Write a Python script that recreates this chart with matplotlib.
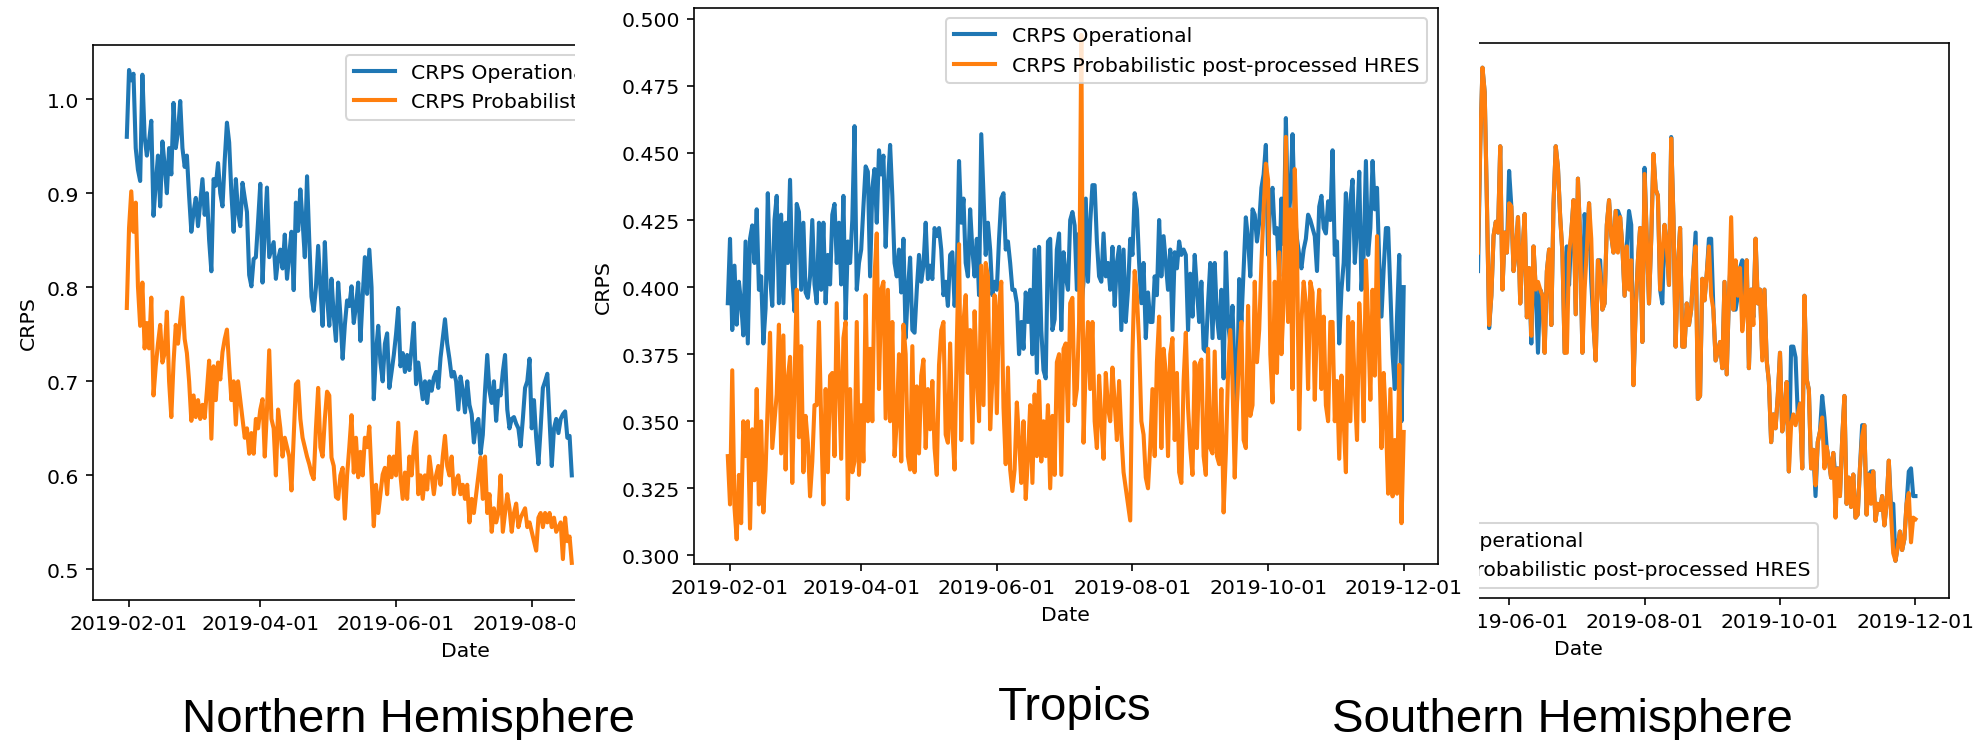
import pandas as pd
import matplotlib
matplotlib.use('Agg')
import matplotlib.pyplot as plt
import matplotlib.dates as mdates
from matplotlib.patches import Rectangle

DPI = 147
W, H = 1978, 741

plt.rcParams['lines.linewidth'] = 2.0

op_label = 'CRPS Operational'
pp_label = 'CRPS Probabilistic post-processed HRES'

# daily CRPS over the tropics, 2019-01-31 .. 2019-12-01
tropics_start = '2019-01-31'
tropics_op = [
    0.394, 0.418, 0.384, 0.408, 0.386, 0.402, 0.394, 0.382, 0.417, 0.379,
    0.418, 0.423, 0.409, 0.429, 0.399, 0.404, 0.379, 0.392, 0.435, 0.404,
    0.393, 0.425, 0.434, 0.394, 0.427, 0.394, 0.424, 0.409, 0.440, 0.404,
    0.391, 0.431, 0.428, 0.399, 0.424, 0.398, 0.396, 0.404, 0.425, 0.401,
    0.394, 0.424, 0.399, 0.424, 0.394, 0.412, 0.401, 0.427, 0.431, 0.409,
    0.424, 0.401, 0.434, 0.388, 0.417, 0.409, 0.425, 0.460, 0.399, 0.409,
    0.414, 0.430, 0.445, 0.443, 0.404, 0.437, 0.444, 0.424, 0.451, 0.442,
    0.449, 0.415, 0.438, 0.453, 0.434, 0.409, 0.404, 0.414, 0.398, 0.418,
    0.381, 0.399, 0.411, 0.384, 0.383, 0.399, 0.412, 0.402, 0.408, 0.424,
    0.403, 0.408, 0.403, 0.422, 0.419, 0.422, 0.414, 0.397, 0.402, 0.393,
    0.412, 0.413, 0.393, 0.404, 0.447, 0.424, 0.433, 0.409, 0.404, 0.429,
    0.414, 0.404, 0.418, 0.397, 0.457, 0.434, 0.412, 0.424, 0.414, 0.397,
    0.402, 0.399, 0.418, 0.433, 0.435, 0.414, 0.417, 0.409, 0.399, 0.399,
    0.394, 0.375, 0.387, 0.377, 0.398, 0.387, 0.399, 0.375, 0.414, 0.368,
    0.415, 0.384, 0.369, 0.366, 0.417, 0.418, 0.384, 0.388, 0.414, 0.420,
    0.384, 0.413, 0.404, 0.399, 0.425, 0.428, 0.423, 0.399, 0.420, 0.392,
    0.402, 0.433, 0.402, 0.424, 0.438, 0.438, 0.417, 0.404, 0.402, 0.420,
    0.404, 0.409, 0.399, 0.415, 0.393, 0.409, 0.415, 0.384, 0.414, 0.387,
    0.399, 0.418, 0.412, 0.435, 0.429, 0.409, 0.394, 0.409, 0.381, 0.398,
    0.387, 0.387, 0.404, 0.397, 0.425, 0.404, 0.419, 0.409, 0.399, 0.414,
    0.384, 0.413, 0.407, 0.417, 0.412, 0.414, 0.412, 0.384, 0.405, 0.389,
    0.412, 0.399, 0.387, 0.402, 0.377, 0.376, 0.394, 0.409, 0.381, 0.409,
    0.389, 0.381, 0.399, 0.366, 0.413, 0.387, 0.379, 0.393, 0.366, 0.357,
    0.403, 0.387, 0.407, 0.426, 0.418, 0.404, 0.429, 0.427, 0.417, 0.424,
    0.437, 0.442, 0.453, 0.412, 0.433, 0.437, 0.420, 0.422, 0.404, 0.433,
    0.416, 0.463, 0.424, 0.433, 0.457, 0.427, 0.418, 0.412, 0.407, 0.414,
    0.418, 0.427, 0.425, 0.422, 0.419, 0.406, 0.430, 0.434, 0.422, 0.420,
    0.432, 0.425, 0.451, 0.412, 0.417, 0.379, 0.399, 0.409, 0.435, 0.399,
    0.432, 0.440, 0.409, 0.422, 0.443, 0.399, 0.412, 0.447, 0.412, 0.422,
    0.447, 0.429, 0.437, 0.409, 0.389, 0.407, 0.422, 0.422, 0.399, 0.375,
    0.362, 0.389, 0.412, 0.350, 0.400,
]
tropics_pp = [
    0.337, 0.319, 0.369, 0.318, 0.306, 0.330, 0.312, 0.350, 0.337, 0.350,
    0.310, 0.347, 0.328, 0.362, 0.319, 0.350, 0.316, 0.332, 0.357, 0.383,
    0.340, 0.350, 0.360, 0.386, 0.338, 0.382, 0.332, 0.366, 0.374, 0.327,
    0.365, 0.399, 0.344, 0.378, 0.331, 0.352, 0.342, 0.322, 0.335, 0.356,
    0.356, 0.387, 0.350, 0.319, 0.362, 0.331, 0.367, 0.368, 0.337, 0.394,
    0.365, 0.336, 0.381, 0.387, 0.321, 0.362, 0.331, 0.335, 0.387, 0.330,
    0.356, 0.335, 0.397, 0.350, 0.377, 0.350, 0.404, 0.420, 0.362, 0.399,
    0.402, 0.351, 0.399, 0.350, 0.387, 0.337, 0.350, 0.375, 0.335, 0.386,
    0.375, 0.337, 0.332, 0.378, 0.331, 0.363, 0.338, 0.367, 0.373, 0.340,
    0.362, 0.347, 0.365, 0.340, 0.330, 0.371, 0.384, 0.387, 0.345, 0.342,
    0.379, 0.347, 0.332, 0.379, 0.416, 0.343, 0.387, 0.397, 0.368, 0.384,
    0.342, 0.391, 0.367, 0.350, 0.408, 0.356, 0.409, 0.404, 0.347, 0.366,
    0.397, 0.353, 0.393, 0.402, 0.355, 0.334, 0.370, 0.332, 0.324, 0.332,
    0.357, 0.343, 0.327, 0.350, 0.321, 0.337, 0.356, 0.327, 0.360, 0.337,
    0.365, 0.335, 0.350, 0.337, 0.356, 0.325, 0.352, 0.330, 0.372, 0.375,
    0.330, 0.377, 0.379, 0.350, 0.394, 0.396, 0.356, 0.362, 0.387, 0.494,
    0.342, 0.372, 0.387, 0.362, 0.387, 0.350, 0.340, 0.367, 0.350, 0.336,
    0.368, 0.355, 0.350, 0.370, 0.357, 0.343, 0.365, 0.345, 0.331, 0.325,
    0.319, 0.313, 0.375, 0.406, 0.397, 0.379, 0.350, 0.345, 0.329, 0.325,
    0.341, 0.362, 0.337, 0.372, 0.389, 0.340, 0.377, 0.368, 0.337, 0.375,
    0.381, 0.343, 0.368, 0.331, 0.327, 0.365, 0.383, 0.355, 0.340, 0.330,
    0.372, 0.340, 0.371, 0.373, 0.337, 0.330, 0.377, 0.340, 0.338, 0.376,
    0.337, 0.334, 0.362, 0.316, 0.338, 0.368, 0.384, 0.365, 0.329, 0.356,
    0.375, 0.387, 0.343, 0.340, 0.393, 0.352, 0.356, 0.402, 0.372, 0.384,
    0.409, 0.429, 0.446, 0.440, 0.375, 0.357, 0.402, 0.368, 0.413, 0.375,
    0.394, 0.456, 0.387, 0.429, 0.362, 0.444, 0.415, 0.347, 0.387, 0.402,
    0.394, 0.362, 0.402, 0.398, 0.358, 0.387, 0.399, 0.362, 0.389, 0.356,
    0.350, 0.387, 0.387, 0.350, 0.365, 0.336, 0.367, 0.350, 0.331, 0.389,
    0.350, 0.387, 0.362, 0.343, 0.394, 0.377, 0.350, 0.410, 0.387, 0.358,
    0.399, 0.367, 0.419, 0.375, 0.340, 0.368, 0.350, 0.323, 0.362, 0.322,
    0.343, 0.323, 0.371, 0.312, 0.346,
]

# northern hemisphere, from 2019-01-31
nh_start = '2019-01-31'
nh_op = [
    0.960, 1.031, 1.020, 1.027, 0.948, 0.925, 0.913, 1.026, 0.960, 0.940,
    0.955, 0.977, 0.876, 0.910, 0.940, 0.886, 0.955, 0.930, 0.900, 0.948,
    0.920, 0.996, 0.948, 0.965, 0.998, 0.948, 0.928, 0.940, 0.897, 0.859,
    0.880, 0.895, 0.865, 0.890, 0.915, 0.877, 0.900, 0.850, 0.817, 0.915,
    0.908, 0.932, 0.900, 0.886, 0.935, 0.975, 0.954, 0.900, 0.859, 0.915,
    0.880, 0.865, 0.911, 0.895, 0.880, 0.813, 0.801, 0.830, 0.832, 0.870,
    0.910, 0.805, 0.860, 0.906, 0.832, 0.840, 0.848, 0.809, 0.830, 0.840,
    0.820, 0.856, 0.809, 0.835, 0.859, 0.797, 0.890, 0.860, 0.904, 0.870,
    0.832, 0.918, 0.850, 0.790, 0.775, 0.800, 0.844, 0.800, 0.759, 0.848,
    0.790, 0.759, 0.809, 0.770, 0.743, 0.805, 0.770, 0.724, 0.760, 0.786,
    0.780, 0.801, 0.762, 0.780, 0.805, 0.743, 0.790, 0.832, 0.793, 0.840,
    0.800, 0.681, 0.731, 0.759, 0.720, 0.700, 0.740, 0.751, 0.693, 0.710,
    0.728, 0.750, 0.778, 0.716, 0.730, 0.710, 0.728, 0.712, 0.735, 0.762,
    0.697, 0.720, 0.700, 0.681, 0.700, 0.677, 0.700, 0.690, 0.704, 0.710,
    0.693, 0.725, 0.745, 0.766, 0.740, 0.724, 0.705, 0.710, 0.700, 0.670,
    0.705, 0.690, 0.667, 0.700, 0.675, 0.665, 0.635, 0.655, 0.660, 0.623,
    0.643, 0.690, 0.728, 0.690, 0.677, 0.700, 0.658, 0.690, 0.685, 0.710,
    0.728, 0.670, 0.650, 0.660, 0.662, 0.655, 0.650, 0.631, 0.660, 0.693,
    0.700, 0.724, 0.650, 0.680, 0.640, 0.612, 0.650, 0.693, 0.700, 0.708,
    0.660, 0.610, 0.650, 0.660, 0.645, 0.660, 0.665, 0.668, 0.640, 0.642,
    0.600,
]
nh_pp = [
    0.778, 0.863, 0.902, 0.859, 0.890, 0.801, 0.759, 0.805, 0.735, 0.762,
    0.735, 0.789, 0.685, 0.716, 0.740, 0.760, 0.720, 0.730, 0.774, 0.700,
    0.662, 0.720, 0.760, 0.740, 0.765, 0.789, 0.745, 0.730, 0.700, 0.658,
    0.685, 0.662, 0.680, 0.660, 0.675, 0.661, 0.690, 0.722, 0.639, 0.716,
    0.680, 0.720, 0.702, 0.731, 0.745, 0.755, 0.716, 0.680, 0.700, 0.654,
    0.700, 0.680, 0.660, 0.640, 0.650, 0.623, 0.645, 0.623, 0.660, 0.650,
    0.670, 0.681, 0.620, 0.670, 0.733, 0.660, 0.650, 0.600, 0.670, 0.650,
    0.620, 0.640, 0.630, 0.620, 0.584, 0.640, 0.697, 0.700, 0.660, 0.640,
    0.630, 0.620, 0.612, 0.602, 0.596, 0.650, 0.693, 0.630, 0.620, 0.660,
    0.689, 0.685, 0.619, 0.610, 0.577, 0.575, 0.600, 0.608, 0.554, 0.600,
    0.630, 0.664, 0.603, 0.640, 0.598, 0.625, 0.600, 0.640, 0.630, 0.652,
    0.600, 0.546, 0.590, 0.560, 0.580, 0.601, 0.608, 0.580, 0.620, 0.598,
    0.620, 0.600, 0.656, 0.600, 0.575, 0.603, 0.575, 0.620, 0.600, 0.630,
    0.646, 0.580, 0.600, 0.575, 0.600, 0.585, 0.620, 0.600, 0.580, 0.600,
    0.610, 0.590, 0.620, 0.642, 0.610, 0.600, 0.620, 0.580, 0.595, 0.600,
    0.580, 0.590, 0.575, 0.590, 0.550, 0.575, 0.560, 0.580, 0.600, 0.619,
    0.575, 0.620, 0.560, 0.580, 0.540, 0.565, 0.550, 0.560, 0.600, 0.540,
    0.560, 0.580, 0.565, 0.540, 0.560, 0.570, 0.545, 0.555, 0.560, 0.565,
    0.545, 0.550, 0.540, 0.530, 0.520, 0.555, 0.560, 0.545, 0.560, 0.550,
    0.560, 0.545, 0.555, 0.540, 0.545, 0.550, 0.511, 0.555, 0.530, 0.535,
    0.507,
]

# southern hemisphere, from 2019-05-18
sh_start = '2019-05-18'
sh_op = [
    0.772, 0.853, 0.904, 0.888, 0.816, 0.735, 0.756, 0.795, 0.804, 0.797,
    0.853, 0.760, 0.797, 0.784, 0.837, 0.814, 0.772, 0.784, 0.807, 0.751,
    0.784, 0.809, 0.742, 0.774, 0.725, 0.788, 0.760, 0.719, 0.760, 0.756,
    0.719, 0.772, 0.786, 0.737, 0.816, 0.853, 0.839, 0.807, 0.784, 0.719,
    0.788, 0.763, 0.797, 0.818, 0.744, 0.832, 0.793, 0.719, 0.809, 0.786,
    0.816, 0.765, 0.737, 0.714, 0.779, 0.779, 0.747, 0.751, 0.802, 0.818,
    0.795, 0.784, 0.811, 0.811, 0.807, 0.788, 0.756, 0.788, 0.811, 0.802,
    0.698, 0.747, 0.779, 0.800, 0.726, 0.839, 0.793, 0.751, 0.793, 0.848,
    0.825, 0.821, 0.760, 0.751, 0.802, 0.788, 0.763, 0.859, 0.807, 0.723,
    0.774, 0.800, 0.723, 0.723, 0.751, 0.737, 0.747, 0.772, 0.797, 0.689,
    0.691, 0.767, 0.753, 0.770, 0.793, 0.793, 0.747, 0.714, 0.720, 0.726,
    0.709, 0.765, 0.705, 0.756, 0.784, 0.747, 0.747, 0.756, 0.774, 0.779,
    0.747, 0.779, 0.709, 0.760, 0.742, 0.793, 0.751, 0.760, 0.716, 0.760,
    0.714, 0.700, 0.661, 0.679, 0.670, 0.691, 0.719, 0.668, 0.679, 0.700,
    0.642, 0.723, 0.723, 0.716, 0.679, 0.686, 0.644, 0.756, 0.702, 0.695,
    0.644, 0.656, 0.626, 0.661, 0.668, 0.691, 0.677, 0.658, 0.649, 0.638,
    0.654, 0.638, 0.644, 0.626, 0.663, 0.691, 0.621, 0.638, 0.619, 0.640,
    0.612, 0.614, 0.644, 0.672, 0.672, 0.614, 0.640, 0.642, 0.642, 0.610,
    0.621, 0.617, 0.626, 0.607, 0.621, 0.649, 0.619, 0.621, 0.584, 0.593,
    0.603, 0.591, 0.598, 0.621, 0.642, 0.644, 0.626, 0.626,
]
sh_pp = [
    0.784, 0.853, 0.904, 0.888, 0.816, 0.737, 0.756, 0.795, 0.804, 0.797,
    0.853, 0.760, 0.797, 0.784, 0.816, 0.814, 0.772, 0.784, 0.807, 0.751,
    0.784, 0.809, 0.742, 0.774, 0.730, 0.788, 0.760, 0.765, 0.760, 0.756,
    0.719, 0.772, 0.786, 0.737, 0.816, 0.853, 0.839, 0.807, 0.784, 0.719,
    0.719, 0.784, 0.797, 0.818, 0.744, 0.832, 0.793, 0.719, 0.760, 0.786,
    0.816, 0.793, 0.737, 0.714, 0.779, 0.770, 0.747, 0.751, 0.802, 0.818,
    0.795, 0.784, 0.811, 0.784, 0.807, 0.788, 0.756, 0.788, 0.760, 0.779,
    0.698, 0.747, 0.779, 0.800, 0.726, 0.835, 0.793, 0.751, 0.793, 0.848,
    0.825, 0.821, 0.760, 0.784, 0.802, 0.788, 0.763, 0.858, 0.807, 0.723,
    0.774, 0.800, 0.723, 0.723, 0.751, 0.737, 0.747, 0.772, 0.788, 0.689,
    0.691, 0.767, 0.753, 0.770, 0.788, 0.756, 0.747, 0.714, 0.720, 0.726,
    0.709, 0.765, 0.705, 0.756, 0.807, 0.747, 0.779, 0.756, 0.774, 0.733,
    0.747, 0.779, 0.709, 0.760, 0.737, 0.793, 0.751, 0.760, 0.714, 0.760,
    0.714, 0.700, 0.661, 0.679, 0.670, 0.691, 0.719, 0.668, 0.679, 0.700,
    0.642, 0.672, 0.679, 0.672, 0.679, 0.686, 0.644, 0.756, 0.702, 0.695,
    0.644, 0.656, 0.633, 0.661, 0.668, 0.677, 0.644, 0.658, 0.649, 0.638,
    0.654, 0.612, 0.644, 0.626, 0.663, 0.691, 0.621, 0.638, 0.619, 0.640,
    0.612, 0.614, 0.644, 0.665, 0.672, 0.614, 0.640, 0.621, 0.642, 0.610,
    0.621, 0.617, 0.626, 0.607, 0.621, 0.649, 0.614, 0.589, 0.584, 0.593,
    0.603, 0.591, 0.598, 0.621, 0.628, 0.596, 0.612, 0.611,
]

captions = ['Northern Hemisphere', 'Tropics', 'Southern Hemisphere']

# shared date axis: full season plus matplotlib's usual 5% margin
season = pd.date_range(tropics_start, periods=len(tropics_op), freq='D')
pad = (season[-1] - season[0]) * 0.05
x_lo, x_hi = season[0] - pad, season[-1] + pad


def px_box(x0, y0, x1, y1):
    """pixel box (origin top-left) -> figure-fraction rect"""
    return [x0 / W, 1 - y1 / H, (x1 - x0) / W, (y1 - y0) / H]


def draw_panel(ax, start, op, pp, ylim, legend_loc):
    days = pd.date_range(start, periods=len(op), freq='D')
    ax.plot(days, op, label=op_label)
    ax.plot(days, pp, label=pp_label)
    ax.set_xlim(x_lo, x_hi)
    ax.set_ylim(*ylim)
    ax.xaxis.set_major_locator(mdates.MonthLocator(bymonth=[2, 4, 6, 8, 10, 12]))
    ax.xaxis.set_major_formatter(mdates.DateFormatter('%Y-%m-%d'))
    ax.set_xlabel('Date')
    ax.set_ylabel('CRPS')
    ax.legend(loc=legend_loc)


fig = plt.figure(figsize=(W / DPI, H / DPI), dpi=DPI)

ax_nh = fig.add_axes(px_box(93, 45.8, 837, 601))
draw_panel(ax_nh, nh_start, nh_op, nh_pp, (0.4675, 1.0578), 'upper right')

ax_sh = fig.add_axes(px_box(1206.7, 44, 1949.2, 598.8))
draw_panel(ax_sh, sh_start, sh_op, sh_pp, (0.56, 0.92), 'lower center')

# the tropics panel sits on top of the other two
cover = Rectangle((575 / W, 1 - 640 / H), (1478.7 - 575) / W, 640 / H,
                  transform=fig.transFigure, facecolor='white',
                  edgecolor='none', zorder=1)
fig.add_artist(cover)

ax_tr = fig.add_axes(px_box(694, 9.1, 1437.5, 564.7))
ax_tr.set_zorder(2)
draw_panel(ax_tr, tropics_start, tropics_op, tropics_pp, (0.2969, 0.5040), 'upper right')

for name, xc, base in zip(captions, [409, 1075, 1562], [732, 720, 732]):
    fig.text(xc / W, 1 - base / H, name, ha='center', va='baseline',
             fontsize=23.2, family='Liberation Sans', zorder=3)

fig.savefig('out.png', dpi=DPI)
